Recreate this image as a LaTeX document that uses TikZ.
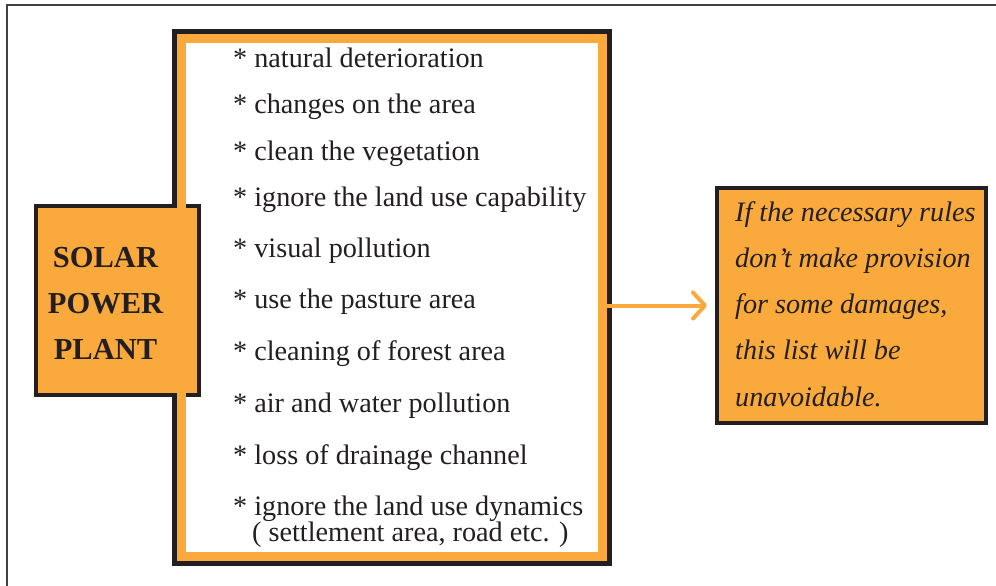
\documentclass[tikz,border=0pt]{standalone}
\usepackage{fontspec}
\setmainfont{Liberation Serif}
\usetikzlibrary{arrows.meta}
\definecolor{orng}{RGB}{250,170,60}
\definecolor{ink}{RGB}{35,31,32}
\begin{document}
\begin{tikzpicture}[x=1pt,y=-1pt,
  listbox/.style={draw=orng,line width=9pt,fill=white,preaction={draw=ink,line width=19pt},
    minimum width=421pt,minimum height=518pt,inner sep=0pt,outer sep=0pt},
  srcbox/.style={draw=ink,line width=4pt,fill=orng,minimum width=163pt,minimum height=189pt,inner sep=0pt,outer sep=0pt},
  notebox/.style={draw=ink,line width=4pt,fill=orng,minimum width=269pt,minimum height=235pt,inner sep=0pt,outer sep=0pt},
  item/.style={anchor=base west,inner sep=0pt,font=\fontsize{28.2}{30}\selectfont,text=ink},
  notetxt/.style={anchor=base west,inner sep=0pt,font=\fontsize{28.2}{30}\selectfont\itshape,text=ink},
  srctxt/.style={align=center,inner sep=0pt,font=\fontsize{30.5}{46}\selectfont\bfseries,text=ink},
  frameline/.style={draw=black!75,line width=1.5pt},
  arr/.style={draw=orng,line width=4pt,-{Straight Barb[length=12pt,width=26pt,round]}}]
\useasboundingbox (0,0) rectangle (996,586);
\draw[frameline] (7,586) -- (7,5) -- (996,5);
% central list box
\node[listbox] (list) at (392,297.5) {};
% source box
\node[srcbox] (src) at (117.5,300.5) {};
\draw[orng,line width=9pt] (181.5,204) -- (181.5,397);
\node[srctxt] (srct) at (105.5,303) {SOLAR\\POWER\\PLANT};
% note box
\node[notebox] (note) at (851.5,305.5) {};
\node[notetxt] (n1) at (735,221) {If the necessary rules};
\node[notetxt] (n2) at (735,267) {don’t make provision};
\node[notetxt] (n3) at (735,313) {for some damages,};
\node[notetxt] (n4) at (735,359) {this list will be};
\node[notetxt] (n5) at (735,406) {unavoidable.};
% list items
\node[item] (i1) at (233,67) {* natural deterioration};
\node[item] (i2) at (233,113) {* changes on the area};
\node[item] (i3) at (233,160) {* clean the vegetation};
\node[item] (i4) at (233,206) {* ignore the land use capability};
\node[item] (i5) at (233,257) {* visual pollution};
\node[item] (i6) at (233,308) {* use the pasture area};
\node[item] (i7) at (233,360) {* cleaning of forest area};
\node[item] (i8) at (233,412) {* air and water pollution};
\node[item] (i9) at (233,464) {* loss of drainage channel};
\node[item] (i10) at (233,515) {* ignore the land use dynamics};
\node[item] (i11) at (252,541) {( settlement area, road etc. )};
% arrow
\draw[arr,shorten >=10pt] (list.east |- note.west) -- (note.west);
\end{tikzpicture}
\end{document}
